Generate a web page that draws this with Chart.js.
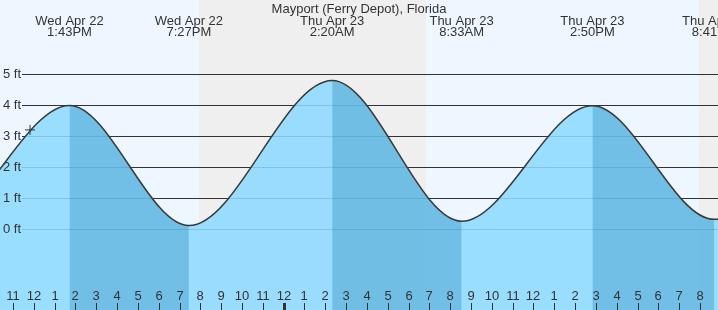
<!DOCTYPE html>
<html>
<head>
<meta charset="utf-8">
<script src="https://cdn.jsdelivr.net/npm/chart.js@4/dist/chart.umd.min.js"></script>
<style>
  html, body { margin: 0; padding: 0; background: #eef7ff; }
  #wrap { width: 718px; height: 310px; position: relative; }
</style>
</head>
<body>
<div id="wrap"><canvas id="tideChart" width="718" height="310"></canvas></div>
<script>
// hours are counted from midnight, Thu Apr 23
const chartTitle = 'Mayport (Ferry Depot), Florida';

// high / low tides (first two and last are outside the window)
const tideHours = [-22.7, -16.5, -10.283, -4.55, 2.333, 8.55, 14.833, 20.683, 27.0];
const tideFeet = [4.7, 0.3, 3.99, 0.12, 4.79, 0.26, 3.98, 0.32, 4.7];
const tideDays = [null, null, 'Wed Apr 22', 'Wed Apr 22', 'Thu Apr 23', 'Thu Apr 23', 'Thu Apr 23', 'Thu Apr 23', null];
const tideTimes = [null, null, '1:43PM', '7:27PM', '2:20AM', '8:33AM', '2:50PM', '8:41PM', null];

// current time marker
const nowHour = -12.18;
const nowFeet = 3.2;

// night (sunset -> sunrise)
const nightStart = [-4.05, 19.95];
const nightEnd = [6.84, 24];

const feetTicks = [0, 1, 2, 3, 4, 5];
const hourStart = -13;
const hourLabels = ['11', '12', '1', '2', '3', '4', '5', '6', '7', '8', '9', '10', '11',
  '12', '1', '2', '3', '4', '5', '6', '7', '8', '9', '10', '11',
  '12', '1', '2', '3', '4', '5', '6', '7', '8'];

const waterFill = 'rgba(140,217,255,0.87)';
const ebbShade = 'rgba(23,124,172,0.3)';
const noShade = 'rgba(0,0,0,0)';
const inkColor = '#333333';
const fontFamily = '"Liberation Sans", Arial, sans-serif';

const tidePoints = tideHours.map((h, i) => ({x: h, y: tideFeet[i]}));

// background, night bands, feet grid
const backPlugin = {
  id: 'backPlugin',
  beforeDatasetsDraw(chart) {
    const c = chart.ctx;
    const xs = chart.scales.x, ys = chart.scales.y;
    const w = chart.width, h = chart.height;
    c.save();
    c.fillStyle = '#eef7ff';
    c.fillRect(0, 0, w, h);
    c.fillStyle = '#efefef';
    for (let i = 0; i < nightStart.length; i++) {
      const a = Math.round(xs.getPixelForValue(nightStart[i]));
      const b = Math.round(xs.getPixelForValue(nightEnd[i]));
      c.fillRect(a, 0, b - a, h);
    }
    c.strokeStyle = inkColor;
    c.lineWidth = 1;
    for (const f of feetTicks) {
      const y = Math.round(ys.getPixelForValue(f)) + 0.5;
      c.beginPath();
      c.moveTo(22, y);
      c.lineTo(w, y);
      c.stroke();
    }
    c.restore();
  }
};

// feet labels, title, tide labels, hour axis
const frontPlugin = {
  id: 'frontPlugin',
  afterDatasetsDraw(chart) {
    const c = chart.ctx;
    const xs = chart.scales.x, ys = chart.scales.y;
    const h = chart.height;
    c.save();
    c.fillStyle = inkColor;
    c.font = '13px ' + fontFamily;
    c.textBaseline = 'middle';
    c.textAlign = 'left';
    for (const f of feetTicks) {
      c.fillText(f + ' ft', 3, Math.round(ys.getPixelForValue(f)) + 0.5);
    }
    c.textAlign = 'center';
    c.textBaseline = 'alphabetic';
    c.fillText(chartTitle, chart.width / 2, 12.5);
    tideHours.forEach((t, i) => {
      if (!tideDays[i]) return;
      const x = xs.getPixelForValue(t);
      c.fillText(tideDays[i], x, 25);
      c.fillText(tideTimes[i], x, 36);
    });
    c.textBaseline = 'middle';
    c.strokeStyle = inkColor;
    hourLabels.forEach((lab, i) => {
      const hr = hourStart + i;
      const x = Math.round(xs.getPixelForValue(hr));
      c.fillText(lab, x, 296);
      if (hr === 0) {
        c.fillRect(x - 1, 303, 3, h - 303);
      } else {
        c.beginPath();
        c.lineWidth = 1;
        c.moveTo(x + 0.5, 303);
        c.lineTo(x + 0.5, h);
        c.stroke();
      }
    });
    c.restore();
  }
};

new Chart(document.getElementById('tideChart'), {
  type: 'line',
  data: {
    datasets: [{
      // water under the curve
      data: tidePoints,
      order: 4,
      cubicInterpolationMode: 'monotone',
      borderWidth: 0,
      borderColor: noShade,
      pointRadius: 0,
      fill: 'start',
      backgroundColor: waterFill
    }, {
      // darker shade while the tide is falling
      data: tidePoints,
      order: 3,
      cubicInterpolationMode: 'monotone',
      borderWidth: 0,
      borderColor: noShade,
      pointRadius: 0,
      fill: 'start',
      backgroundColor: noShade,
      segment: {
        backgroundColor: ctx => ctx.p1.parsed.y < ctx.p0.parsed.y ? ebbShade : noShade
      }
    }, {
      // tide curve
      data: tidePoints,
      order: 2,
      cubicInterpolationMode: 'monotone',
      borderColor: '#383838',
      borderWidth: 1.5,
      pointRadius: 0,
      fill: false
    }, {
      data: [{x: nowHour, y: nowFeet}],
      order: 1,
      showLine: false,
      pointStyle: 'cross',
      pointRadius: 5,
      borderColor: inkColor,
      borderWidth: 1,
      fill: false
    }]
  },
  options: {
    responsive: false,
    animation: false,
    layout: { padding: 0, autoPadding: false },
    scales: {
      x: { type: 'linear', min: -13.622, max: 20.865, display: false },
      y: { min: -2.598, max: 7.383, display: false }
    },
    plugins: {
      legend: { display: false },
      tooltip: { enabled: false }
    }
  },
  plugins: [backPlugin, frontPlugin]
});
</script>
</body>
</html>
